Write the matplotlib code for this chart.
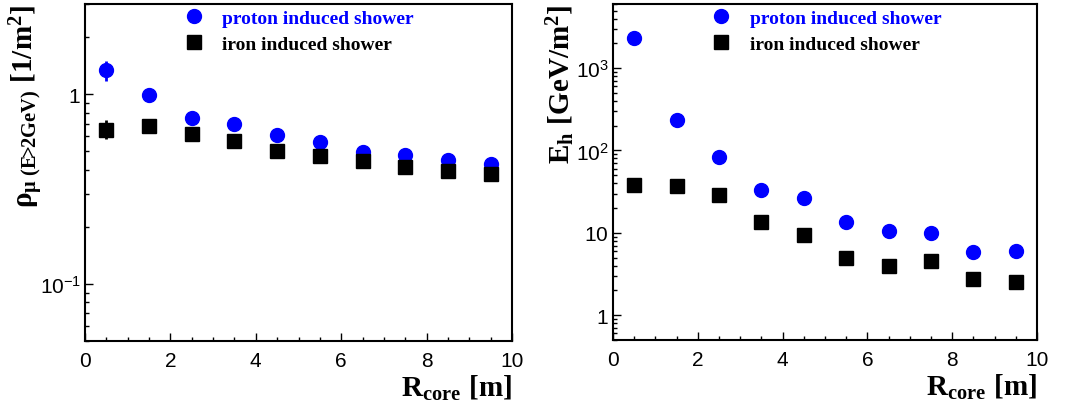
import math
import matplotlib
matplotlib.use("Agg")
import matplotlib.pyplot as plt
from matplotlib.ticker import FixedLocator, LogLocator, MultipleLocator, FuncFormatter, NullFormatter

# データ
r_core = [0.5, 1.5, 2.5, 3.5, 4.5, 5.5, 6.5, 7.5, 8.5, 9.5]

# 左: ミューオン密度 [1/m^2]
rho_proton = [1.34, 0.99, 0.75, 0.70, 0.61, 0.56, 0.495, 0.477, 0.45, 0.43]
rho_proton_err_lo = [0.16, 0.02, 0.01, 0.01, 0.01, 0.01, 0.01, 0.01, 0.01, 0.01]
rho_proton_err_hi = [0.16, 0.02, 0.01, 0.01, 0.01, 0.01, 0.01, 0.01, 0.01, 0.01]
rho_iron = [0.65, 0.685, 0.62, 0.57, 0.505, 0.475, 0.445, 0.416, 0.393, 0.38]
rho_iron_err_lo = [0.07, 0.01, 0.01, 0.01, 0.01, 0.01, 0.01, 0.01, 0.01, 0.01]
rho_iron_err_hi = [0.08, 0.01, 0.01, 0.01, 0.01, 0.01, 0.01, 0.01, 0.01, 0.01]

# 右: ハドロンエネルギー密度 [GeV/m^2]
eh_proton = [2300, 233, 84, 33, 26.6, 13.5, 10.5, 10.0, 5.9, 6.1]
eh_iron = [37.9, 37.5, 28.5, 13.4, 9.4, 5.0, 3.95, 4.5, 2.77, 2.5]

labels = ["proton induced shower", "iron induced shower"]
colors = ['#0000ff', 'black']

plt.rcParams['mathtext.fontset'] = 'custom'
plt.rcParams['mathtext.rm'] = 'Liberation Serif:bold'
plt.rcParams['mathtext.it'] = 'Liberation Serif:bold'
plt.rcParams['mathtext.bf'] = 'Liberation Serif:bold'
plt.rcParams['mathtext.sf'] = 'Liberation Sans'
plt.rcParams['font.family'] = ['Liberation Sans', 'DejaVu Sans']

W, H = 1065, 410
fig = plt.figure(figsize=(W / 100, H / 100), dpi=100)


def px_axes(x0, x1, y0, y1):
    return fig.add_axes([x0 / W, (H - y1) / H, (x1 - x0) / W, (y1 - y0) / H])


def log_fmt(v, pos):
    if abs(v - 1) < 1e-9:
        return r'$\mathsf{1}$'
    if abs(v - 10) < 1e-9:
        return r'$\mathsf{10}$'
    e = int(round(math.log10(v)))
    return r'$\mathsf{10^{%d}}$' % e


def style(ax):
    ax.set_xlim(0, 10)
    ax.set_yscale('log')
    ax.xaxis.set_major_locator(MultipleLocator(2))
    ax.xaxis.set_minor_locator(MultipleLocator(0.5))
    ax.yaxis.set_minor_locator(LogLocator(base=10, subs=range(2, 10)))
    ax.yaxis.set_minor_formatter(NullFormatter())
    ax.yaxis.set_major_formatter(FuncFormatter(log_fmt))
    ax.tick_params(which='both', direction='in', top=False, right=False, labelsize=15, width=1)
    ax.tick_params(which='major', length=6)
    ax.tick_params(which='minor', length=3)
    ax.tick_params(axis='x', pad=7)
    ax.tick_params(axis='y', pad=3)
    for s in ax.spines.values():
        s.set_linewidth(1.5)


# 左パネル
ax1 = px_axes(85, 512, 5, 342)
ax1.errorbar(r_core, rho_proton, yerr=[rho_proton_err_lo, rho_proton_err_hi], fmt='none',
             ecolor=colors[0], elinewidth=2, capsize=0)
ax1.errorbar(r_core, rho_iron, yerr=[rho_iron_err_lo, rho_iron_err_hi], fmt='none',
             ecolor=colors[1], elinewidth=2, capsize=0)
ax1.plot(r_core, rho_proton, 'o', color=colors[0], ms=10, label=labels[0])
ax1.plot(r_core, rho_iron, 's', color=colors[1], ms=10, label=labels[1])
ax1.set_ylim(0.05, 3.0)
style(ax1)
ax1.yaxis.set_major_locator(FixedLocator([0.1, 1]))
ax1.set_xlabel(r'$\mathrm{R_{core}\ [m]}$', fontsize=21, loc='right', labelpad=2)
ax1.set_ylabel(r'$\rho_{\mu\ \mathrm{(E\!\!>\!\!2GeV)}}\ \mathrm{[1/m^{2}]}$', fontsize=21, loc='top')
ax1.yaxis.set_label_coords(-0.094, 1.0)

# 右パネル
ax2 = px_axes(613, 1037, 5, 341)
ax2.plot(r_core, eh_proton, 'o', color=colors[0], ms=10, label=labels[0])
ax2.plot(r_core, eh_iron, 's', color=colors[1], ms=10, label=labels[1])
ax2.set_ylim(0.5, 6000)
style(ax2)
ax2.yaxis.set_major_locator(FixedLocator([1, 10, 100, 1000]))
ax2.set_xlabel(r'$\mathrm{R_{core}\ [m]}$', fontsize=21, loc='right', labelpad=2)
ax2.set_ylabel(r'$\mathrm{E_{h}\ [GeV/m^{2}]}$', fontsize=21, loc='top')
ax2.yaxis.set_label_coords(-0.085, 1.0)

for ax in (ax1, ax2):
    leg = ax.legend(loc='upper left', bbox_to_anchor=(0.235, 0.985), frameon=False,
                    prop={'family': 'Liberation Serif', 'weight': 'bold', 'size': 14},
                    handlelength=0.9, handletextpad=1.0, labelspacing=0.45,
                    borderpad=0, borderaxespad=0, numpoints=1)
    for t, c in zip(leg.get_texts(), colors):
        t.set_color(c)

fig.savefig('out.png', dpi=100)
